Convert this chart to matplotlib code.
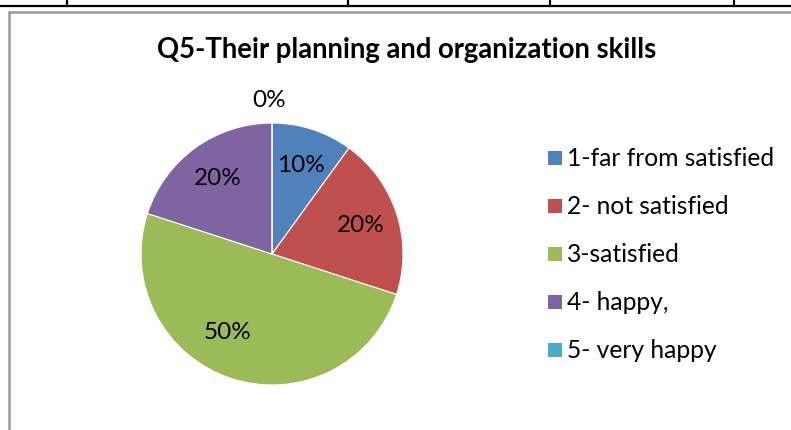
import matplotlib
matplotlib.use("Agg")
import matplotlib.pyplot as plt
from matplotlib.patches import Rectangle
from matplotlib.lines import Line2D
import numpy as np

# survey answers for Q5
categories = ['1-far from satisfied', '2- not satisfied', '3-satisfied', '4- happy,', '5- very happy']
shares = [10, 20, 50, 20, 0]
colors = ['#4F81BD', '#C0504D', '#9BBB59', '#8064A2', '#4BACC6']
title = 'Q5-Their planning and organization skills'

plt.rcParams['font.family'] = ['Lato', 'DejaVu Sans']

W, H = 791, 430
fig = plt.figure(figsize=(W / 100, H / 100), dpi=100)

# table row edge above the chart
fig.add_artist(Line2D([0, 1], [1 - 6 / H, 1 - 6 / H], color='black', lw=1.6))
for x in [67, 348, 550, 734]:
    fig.add_artist(Line2D([x / W, x / W], [1 - 6 / H, 1], color='black', lw=1.6))

# chart area frame
fig.add_artist(Rectangle((9 / W, -0.05), 1.0, 1 - 12 / H + 0.05, transform=fig.transFigure,
                         fill=False, edgecolor='#9a9a9a', lw=1.8))

# pie
cx, cy, r = 272, 430 - 254, 131
ax = fig.add_axes([(cx - r) / W, (cy - r) / H, 2 * r / W, 2 * r / H])
wedges, texts, autotexts = ax.pie(shares, colors=colors, startangle=90, counterclock=False,
                                  autopct='%d%%', pctdistance=0.71,
                                  wedgeprops=dict(linewidth=0.8, edgecolor='white'),
                                  textprops=dict(fontsize=17.5, color='black'))
ax.set_xlim(-1, 1)
ax.set_ylim(-1, 1)
ax.set_aspect('equal')
ax.axis('off')

# nudge labels the way the chart places them
autotexts[2].set_position((-0.34, -0.60))
autotexts[4].set_position((-0.02, 1.17))
for t in autotexts:
    t.set_ha('center')
    t.set_va('center')
    t.set_clip_on(False)

fig.text(407 / W, 1 - 50 / H, title, ha='center', va='center', fontsize=19.8, fontweight='bold')

# legend
for i, (lab, c) in enumerate(zip(categories, colors)):
    y = 1 - (158 + i * 48) / H
    fig.add_artist(Rectangle((548 / W, y - 7 / H), 14 / W, 14 / H, transform=fig.transFigure,
                             facecolor=c, edgecolor='none'))
    fig.text(567 / W, y, lab, ha='left', va='center', fontsize=17.7)

fig.savefig('out.png', dpi=100, facecolor='white')
